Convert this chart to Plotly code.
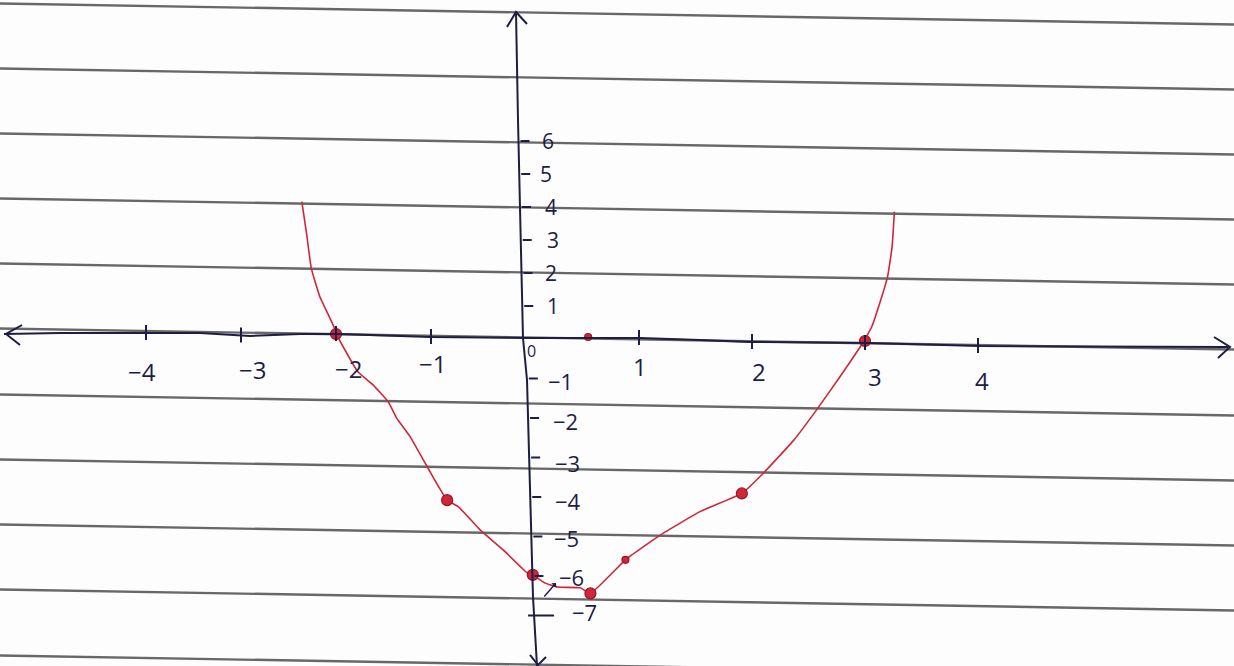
import numpy as np
import plotly.graph_objects as go

W, H = 1234, 666

# ---------------------------------------------------------------- data
# hand-plotted quadratic curve (drawn through the plotted points)
curve_x = [-2.36, -2.31, -2.26, -2.17, -2.08, -2.00, -1.97, -1.77, -1.61, -1.45,
           -1.36, -1.22, -1.05, -0.92, -0.83, -0.71, -0.48, -0.24, 0.0, 0.06,
           0.17, 0.28, 0.48, 0.57, 0.88, 1.19, 1.54, 1.91, 2.10, 2.37,
           2.57, 2.78, 2.96, 3.0, 3.06, 3.13, 3.20, 3.24, 3.26]
curve_y = [4.16, 3.20, 2.14, 1.28, 0.73, 0.24, 0.0, -0.83, -1.16, -1.59,
           -2.01, -2.47, -3.19, -3.74, -4.08, -4.25, -4.84, -5.34, -5.90, -5.97,
           -6.18, -6.28, -6.30, -6.44, -5.59, -4.96, -4.37, -3.91, -3.40, -2.56,
           -1.80, -0.95, -0.19, 0.0, 0.37, 1.08, 1.89, 2.80, 3.86]

# plotted points (large dots) and small dots
point_x = [-2.0, -0.83, 0.06, 0.57, 1.91, 3.0]
point_y = [0.15, -4.08, -5.97, -6.44, -3.91, -0.05]
small_x = [0.55, 0.88]
small_y = [0.06, -5.59]

# axis tick values
x_ticks = [-4, -3, -2, -1, 1, 2, 3, 4]
y_ticks_pos = [1, 2, 3, 4, 5, 6]
y_ticks_neg = [-1, -2, -3, -4, -5, -6, -7]

# ---------------------------------------------------------------- geometry
# the hand-drawn axes use a different unit length on each side of the origin,
# so each quadrant gets its own pair of linear axes meeting at the origin
X0_PX, Y0_PX = 526, 339          # origin in page pixels
SL, SR = 95.0, 113.0             # px per unit, left / right of the origin
SU, SD = 33.0, 39.5              # px per unit, above / below the origin


def fx(px):
    return px / W


def fy(py):
    return 1 - py / H


def data_px_x(v):
    return X0_PX + v * (SL if v < 0 else SR)


def data_px_y(v):
    return Y0_PX - v * (SU if v > 0 else SD)


INK = "#1d1d45"
RED = "#d0263a"
RED_DARK = "#9c1424"
PAPER_LINE = "rgba(62,62,62,0.78)"

# hand-drawn axis strokes (page pixels)
x_axis_path = [(4, 334), (60, 333), (145, 333), (200, 333), (250, 336), (300, 334),
               (340, 334), (430, 337), (526, 338), (640, 338), (700, 340),
               (750, 342), (870, 343), (980, 346), (1228, 347)]
y_axis_path = [(516, 12), (518, 120), (523, 338), (527, 380), (533, 597), (537, 666)]


def axis_y_at(px):
    xs, ys = zip(*x_axis_path)
    return float(np.interp(px, xs, ys))


def axis_x_at(py):
    xs, ys = zip(*y_axis_path)
    return float(np.interp(py, ys, xs))


def svg_path(points):
    return "M " + " L ".join(f"{fx(a):.5f},{fy(b):.5f}" for a, b in points)


def quadrant(x, y):
    return ("x" if x < 0 else "x2", "y" if y > 0 else "y2")


fig = go.Figure()

# ---------------------------------------------------------------- curve
runs = []
for i in range(len(curve_x) - 1):
    q = quadrant((curve_x[i] + curve_x[i + 1]) / 2, (curve_y[i] + curve_y[i + 1]) / 2)
    if runs and runs[-1][0] == q:
        runs[-1][1].append(i + 1)
    else:
        runs.append([q, [i, i + 1]])

for (xa, ya), idx in runs:
    fig.add_trace(go.Scatter(
        x=[curve_x[k] for k in idx], y=[curve_y[k] for k in idx],
        xaxis=xa, yaxis=ya, mode="lines",
        line=dict(color=RED, width=1.6, shape="spline", smoothing=0.35),
        cliponaxis=False, hoverinfo="skip", showlegend=False))


def add_points(xs, ys, size):
    groups = {}
    for x, y in zip(xs, ys):
        groups.setdefault(quadrant(x, y), []).append((x, y))
    for (xa, ya), pts in groups.items():
        fig.add_trace(go.Scatter(
            x=[p[0] for p in pts], y=[p[1] for p in pts],
            xaxis=xa, yaxis=ya, mode="markers",
            marker=dict(size=size, color=RED, line=dict(color=RED_DARK, width=1.2)),
            cliponaxis=False, hoverinfo="skip", showlegend=False))


add_points(point_x, point_y, 11)
add_points(small_x, small_y, 7)

# ---------------------------------------------------------------- ruled paper
shapes = []
ruled_mid = [13, 78, 143, 208, 273, 338, 404, 469, 534, 599, 665]
for c in ruled_mid:
    shapes.append(dict(type="line", xref="paper", yref="paper", layer="below",
                       x0=0, x1=1, y0=fy(c - 9.5), y1=fy(c + 11.5),
                       line=dict(color=PAPER_LINE, width=2.4)))

# ---------------------------------------------------------------- axes
ink = dict(color=INK, width=2)
shapes.append(dict(type="path", xref="paper", yref="paper", path=svg_path(x_axis_path), line=ink))
shapes.append(dict(type="path", xref="paper", yref="paper", path=svg_path(y_axis_path), line=ink))
for chevron in ([(22, 325), (6, 334), (20, 345)],
                [(1214, 337), (1230, 347), (1218, 358)],
                [(507, 27), (516, 12), (527, 24)],
                [(530, 655), (538, 665), (546, 657)]):
    shapes.append(dict(type="path", xref="paper", yref="paper", path=svg_path(chevron), line=ink))

# x ticks
for v in x_ticks:
    cy = axis_y_at(data_px_x(v))
    shapes.append(dict(type="line", xref="x" if v < 0 else "x2", yref="paper",
                       x0=v, x1=v, y0=fy(cy - 8), y1=fy(cy + 7), line=dict(color=INK, width=2)))

# y ticks
for v in y_ticks_pos + y_ticks_neg:
    ax_x = axis_x_at(data_px_y(v))
    left, right = (ax_x - 6, ax_x + 20) if v == -7 else (ax_x + 2, ax_x + 11)
    shapes.append(dict(type="line", xref="paper", yref="y" if v > 0 else "y2",
                       x0=fx(left), x1=fx(right), y0=v, y1=v, line=dict(color=INK, width=2)))

# ---------------------------------------------------------------- labels
font = dict(family="Open Sans, DejaVu Sans, sans-serif", size=24, color=INK)
annotations = []


def lab(v):
    return f"\u2212{abs(v)}" if v < 0 else str(v)


x_label_dx = [-4, 11, 12, 1, 1, 7, 10, 4]
x_label_py = [371, 369, 368, 363, 366, 371, 377, 380]
for v, dx, py in zip(x_ticks, x_label_dx, x_label_py):
    annotations.append(dict(text=lab(v), xref="x" if v < 0 else "x2", yref="paper",
                            x=v, y=fy(py), xshift=dx, showarrow=False, font=font,
                            xanchor="center", yanchor="middle"))

y_label_px_pos = [545, 543, 545, 543, 538, 540]
for v, px in zip(y_ticks_pos, y_label_px_pos):
    annotations.append(dict(text=lab(v), xref="paper", yref="y", x=fx(px), y=v,
                            showarrow=False, font=dict(font, size=21),
                            xanchor="left", yanchor="middle"))

y_label_px_neg = [546, 551, 553, 553, 552, 557, 570]
y_label_dy = [-2, -3, -5, -4, -1, -1, 4]
for v, px, dy in zip(y_ticks_neg, y_label_px_neg, y_label_dy):
    annotations.append(dict(text=lab(v), xref="paper", yref="y2", x=fx(px), y=v,
                            yshift=dy, showarrow=False, font=dict(font, size=22),
                            xanchor="left", yanchor="middle"))

# origin label
annotations.append(dict(text="0", xref="paper", yref="paper", x=fx(531), y=fy(351),
                        showarrow=False, font=dict(font, size=16),
                        xanchor="center", yanchor="middle"))

# small pointer next to the vertex
annotations.append(dict(text="", xref="paper", yref="paper", x=fx(556), y=fy(583),
                        ax=-13, ay=15, showarrow=True, arrowhead=1, arrowsize=0.8,
                        arrowwidth=1.4, arrowcolor=INK))

hidden = dict(visible=False, fixedrange=True, showgrid=False, zeroline=False)
fig.update_layout(
    width=W, height=H, autosize=False,
    margin=dict(l=0, r=0, t=0, b=0, pad=0),
    paper_bgcolor="#fdfdfd", plot_bgcolor="rgba(0,0,0,0)",
    xaxis=dict(hidden, domain=[0, X0_PX / W], range=[-X0_PX / SL, 0], anchor="y"),
    xaxis2=dict(hidden, domain=[X0_PX / W, 1], range=[0, (W - X0_PX) / SR], anchor="y"),
    yaxis=dict(hidden, domain=[1 - Y0_PX / H, 1], range=[0, Y0_PX / SU], anchor="x"),
    yaxis2=dict(hidden, domain=[0, 1 - Y0_PX / H], range=[-(H - Y0_PX) / SD, 0], anchor="x"),
    shapes=shapes, annotations=annotations, showlegend=False,
)

fig.write_html("out.html")
